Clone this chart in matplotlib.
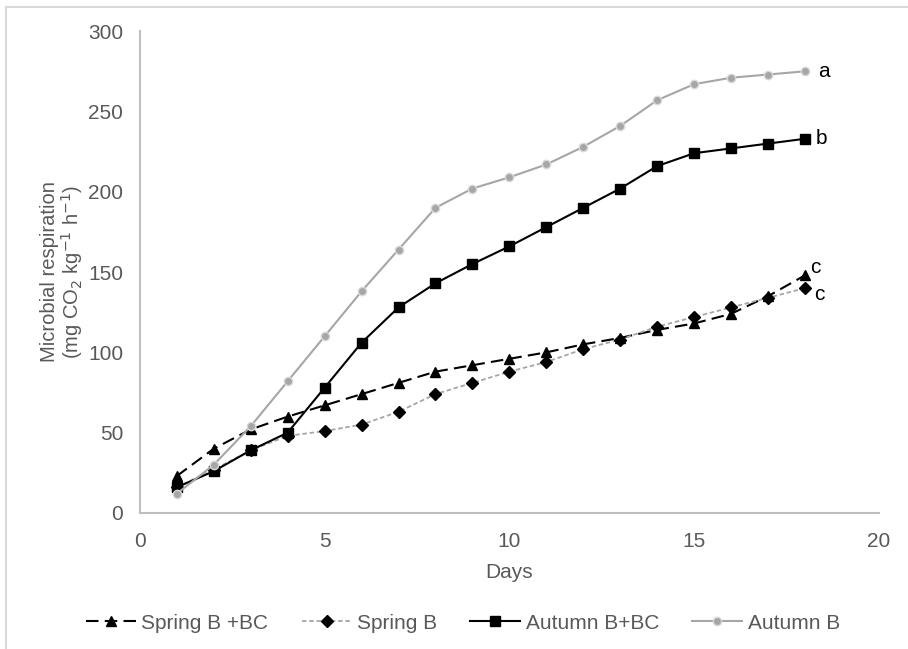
import matplotlib.pyplot as plt
from matplotlib.patches import Rectangle

plt.rcParams['font.family'] = ['Liberation Sans', 'DejaVu Sans']

days = list(range(1, 19))
spring_bc = [23, 40, 52, 60, 67, 74, 81, 88, 92, 96, 100, 105, 109, 114, 118, 124, 135, 148]
spring_b = [16, 27, 39, 48, 51, 55, 63, 74, 81, 88, 94, 102, 108, 116, 122, 128, 134, 140]
autumn_bc = [16, 26, 39, 50, 78, 106, 128, 143, 155, 166, 178, 190, 202, 216, 224, 227, 230, 233]
autumn_b = [12, 30, 54, 82, 110, 138, 164, 190, 202, 209, 217, 228, 241, 257, 267, 271, 273, 275]

sig_letters = ["a", "b", "c", "c"]
sig_pos = [(18.35, 275), (18.3, 233), (18.15, 153), (18.25, 136)]

text_col = '#595959'
axis_col = '#BFBFBF'
grey = '#A6A6A6'

fig = plt.figure(figsize=(9.08, 6.49), dpi=100)
ax = fig.add_axes([0.154, 0.2096, 0.814, 0.7424])

# chart frame
fig.patches.append(Rectangle((6 / 908, -0.1), 1.2, 1 - 7 / 649 + 0.1, transform=fig.transFigure,
                             fill=False, edgecolor='#D9D9D9', linewidth=1.5))

ax.plot(days, spring_bc, color='black', lw=1.5, ls=(0, (6, 3)), marker='^', ms=7.5,
        label='Spring B +BC')
ax.plot(days, spring_b, color=grey, lw=1.3, ls=(0, (2.5, 1.5)), marker='D', ms=6,
        mfc='black', mec='black', label='Spring B')
ax.plot(days, autumn_bc, color='black', lw=1.5, marker='s', ms=7, label='Autumn B+BC')
ax.plot(days, autumn_b, color=grey, lw=1.5, marker='o', ms=6, mfc=grey, mec='#D9D9D9',
        mew=1, label='Autumn B')

for t, (x, y) in zip(sig_letters, sig_pos):
    ax.text(x, y, t, fontsize=15, color='black', ha='left', va='center')

ax.set_xlim(0, 20)
ax.set_ylim(0, 300)
ax.set_xticks([0, 5, 10, 15, 20])
ax.set_yticks(range(0, 301, 50))
for s in ['top', 'right']:
    ax.spines[s].set_visible(False)
for s in ['left', 'bottom']:
    ax.spines[s].set_color(axis_col)
    ax.spines[s].set_linewidth(1.5)
ax.tick_params(axis='both', length=0, labelsize=15, labelcolor=text_col)
ax.tick_params(axis='x', pad=14)
ax.tick_params(axis='y', pad=12)

ax.set_xlabel('Days', fontsize=15, color=text_col, labelpad=8)
ax.set_ylabel('Microbial respiration\n(mg CO$_2$ kg$^{\\mathrm{-1}}$ h$^{\\mathrm{-1}}$)', fontsize=14.5,
              color=text_col, labelpad=2, linespacing=1.0)

fig.legend(loc='center', bbox_to_anchor=(0.51, 0.04), ncol=4, frameon=False,
           fontsize=15, handlelength=2.4, handletextpad=0.25, columnspacing=1.6,
           labelcolor=text_col)

fig.savefig('out.png', dpi=100)
